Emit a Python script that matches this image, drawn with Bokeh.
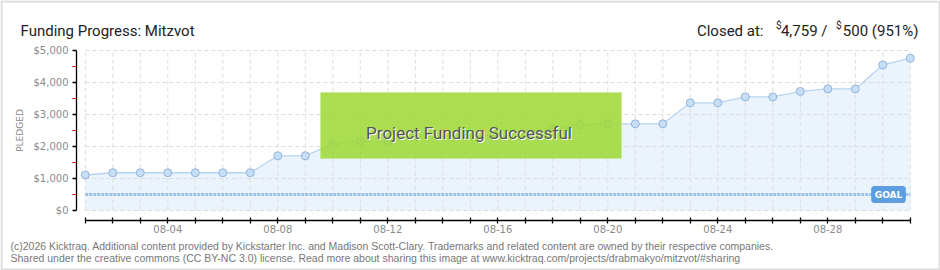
from bokeh.plotting import figure
from bokeh.models import (Range1d, FixedTicker, Label, BoxAnnotation, ColumnDataSource,
                          NumeralTickFormatter)
from bokeh.embed import file_html
from bokeh.resources import INLINE

# ---------------- data ----------------
dates = ["08-%02d" % d for d in range(1, 32)]
days = list(range(1, 32))
pledged = [1110, 1180, 1180, 1180, 1180, 1180, 1180, 1710, 1710, 2080,
           2160, 2140, 2290, 2340, 2340, 2340, 2400, 2550, 2680, 2710,
           2710, 2710, 3365, 3365, 3550, 3550, 3720, 3800, 3800, 4550, 4759]
goal = 500
y_ticks = [0, 1000, 2000, 3000, 4000, 5000]
y_minor = [500, 1500, 2500, 3500, 4500]
x_label_days = [4, 8, 12, 16, 20, 24, 28]
title_text = "Funding Progress: Mitzvot"
closed_parts = ["Closed at:", "$", "4,759 /", "$", "500 (951%)"]
banner_text = "Project Funding Successful"
footer1 = ("(c)2026 Kicktraq. Additional content provided by Kickstarter Inc. and Madison Scott-Clary. "
           "Trademarks and related content are owned by their respective companies.")
footer2 = ("Shared under the creative commons (CC BY-NC 3.0) license. Read more about sharing this image at "
           "www.kicktraq.com/projects/drabmakyo/mitzvot/#sharing")

W, H = 940, 270
# layout of the plotting region in canvas pixels
X_FIRST, PX_DAY = 84.8, 27.5       # canvas x of first day, px per day
Y_ZERO, PX_K = 210.0, 32.0         # canvas y of $0, px per $1000
AXIS_X, AXIS_Y = 76, 220           # canvas positions of the axis lines
FONT = "Roboto"

x0 = days[0] - X_FIRST / PX_DAY
y0 = -(H - Y_ZERO) / PX_K * 1000
p = figure(width=W, height=H, output_backend="svg", toolbar_location=None,
           x_range=Range1d(x0, x0 + W / PX_DAY),
           y_range=Range1d(y0, y0 + H / PX_K * 1000),
           min_border=0)
p.outline_line_color = None
p.background_fill_color = "white"
p.border_fill_color = "white"
p.xgrid.visible = False
p.ygrid.visible = False

# area under the curve
p.varea(x=days, y1=[0] * len(days), y2=pledged, fill_color="#ebf4fd")

# dashed grid limited to the data area
vsrc = ColumnDataSource(dict(x0=days, x1=days, y0=[y_ticks[0]] * len(days), y1=[y_ticks[-1]] * len(days)))
p.segment(x0="x0", x1="x1", y0="y0", y1="y1", source=vsrc, line_color="#dcdcdc",
          line_dash="4 3", line_width=1)
hsrc = ColumnDataSource(dict(x0=[days[0]] * len(y_ticks), x1=[days[-1]] * len(y_ticks), y0=y_ticks, y1=y_ticks))
p.segment(x0="x0", x1="x1", y0="y0", y1="y1", source=hsrc, line_color="#dcdcdc",
          line_dash="4 3", line_width=1)

# goal line
p.line(x=[days[0], days[-1]], y=[goal, goal], line_color="#9cc2ea", line_width=3, line_dash="3 1")

# pledged series
p.line(x=days, y=pledged, line_color="#b7d4f2", line_width=1.3)
p.scatter(x=days, y=pledged, size=8, fill_color="#c6dff7", line_color="#93b3d9", line_width=1)

# axes (kept at fixed positions so the frame can span the whole canvas)
xa = p.xaxis[0]
xa.fixed_location = y0 + (H - AXIS_Y) / PX_K * 1000
xa.ticker = FixedTicker(ticks=days)
xa.major_label_overrides = {d: (dates[d - 1] if d in x_label_days else "") for d in days}
xa.bounds = (days[0], days[-1])
xa.axis_line_color = "black"
xa.axis_line_width = 1.3
xa.major_tick_line_color = "black"
xa.major_tick_line_width = 1.3
xa.major_tick_in = 3
xa.major_tick_out = 3
xa.minor_tick_line_color = None
xa.major_label_standoff = 1
xa.major_label_text_font = "DejaVu Sans"
xa.major_label_text_font_size = "10px"
xa.major_label_text_color = "#8a8a8a"

ya = p.yaxis[0]
ya.fixed_location = x0 + AXIS_X / PX_DAY
ya.ticker = FixedTicker(ticks=y_ticks, minor_ticks=y_minor)
ya.formatter = NumeralTickFormatter(format="$0,0")
ya.bounds = (y_ticks[0], y_ticks[-1])
ya.axis_line_color = "black"
ya.axis_line_width = 1.3
ya.major_tick_line_color = "black"
ya.major_tick_line_width = 1.3
ya.major_tick_in = 0
ya.major_tick_out = 4
ya.minor_tick_line_color = "red"
ya.minor_tick_in = 0
ya.minor_tick_out = 4
ya.major_label_standoff = 4
ya.major_label_text_font = "DejaVu Sans"
ya.major_label_text_font_size = "10px"
ya.major_label_text_color = "#8a8a8a"
ya.axis_label = "PLEDGED"
ya.axis_label_text_font = "DejaVu Sans"
ya.axis_label_text_font_size = "9px"
ya.axis_label_text_font_style = "normal"
ya.axis_label_text_color = "#888888"
ya.axis_label_standoff = 6


def lab(text, cx, cy, size, color, align="left", font=FONT, style="normal", baseline="alphabetic", **kw):
    p.add_layout(Label(x=cx, y=H - cy, x_units="screen", y_units="screen", text=text,
                       text_font=font, text_font_size=size, text_color=color, text_align=align,
                       text_baseline=baseline, text_font_style=style, **kw))


# goal tag
p.add_layout(Label(x=888, y=goal, x_units="screen", y_units="data", text="GOAL",
                   text_font="DejaVu Sans", text_font_size="9px", text_color="white",
                   text_font_style="bold", text_align="center", text_baseline="middle",
                   background_fill_color="#5d9ee0", border_line_color="#5d9ee0",
                   padding=3, border_radius=2))

# success banner (semi-transparent so the points show through)
p.add_layout(BoxAnnotation(left=320, right=621, top=92, bottom=158,
                           left_units="canvas", right_units="canvas",
                           top_units="canvas", bottom_units="canvas",
                           fill_color="#99d62c", fill_alpha=0.85,
                           line_color="#c4e88a", line_width=1,
                           hatch_pattern="right_diagonal_line", hatch_color="#b9e46e",
                           hatch_alpha=0.35, hatch_scale=4, hatch_weight=1))
lab(banner_text, 469.5, 133, "17px", "white", align="center")
lab(banner_text, 468.5, 132, "17px", "#555555", align="center")

# title and summary
lab(title_text, 20, 30, "15px", "#222222")
lab(closed_parts[0], 763, 30, "15px", "#222222", align="right")
lab(closed_parts[1], 781, 25, "10px", "#222222", align="right")
lab(closed_parts[2], 827, 30, "15px", "#222222", align="right")
lab(closed_parts[3], 841, 25, "10px", "#222222", align="right")
lab(closed_parts[4], 918, 30, "15px", "#222222", align="right")

# footer
lab(footer1, 10, 245, "10.5px", "#777777", font="Liberation Sans")
lab(footer2, 10, 257.5, "10.5px", "#777777", font="Liberation Sans")

# outer frame
p.add_layout(BoxAnnotation(left=1, right=W - 1, top=1, bottom=H - 1,
                           left_units="canvas", right_units="canvas",
                           top_units="canvas", bottom_units="canvas",
                           fill_alpha=0, line_color="#8a8a8a", line_width=2))

open("out.html", "w").write(file_html(p, INLINE))
